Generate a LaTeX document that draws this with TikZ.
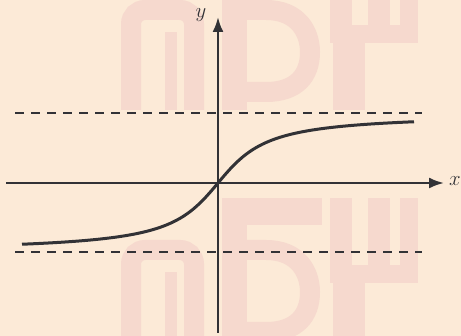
\documentclass[tikz,border=0pt]{standalone}
\usetikzlibrary{arrows.meta}
\definecolor{bgc}{RGB}{252,234,215}
\definecolor{wmc}{RGB}{246,217,206}
\definecolor{ink}{RGB}{50,50,54}
\begin{document}
\begin{tikzpicture}[x=1pt,y=-1pt,
  wm/.style={draw=wmc,line cap=butt},
  axis/.style={draw=ink,line width=2.3pt,-{Latex[length=15pt,width=11pt]}},
  asym/.style={draw=ink,line width=1.3pt,dash pattern=on 9pt off 7pt},
  curve/.style={draw=ink,line width=3pt},
  lbl/.style={text=ink,inner sep=0pt,font=\fontsize{22}{22}\selectfont}]
\fill[bgc] (0,0) rectangle (461,336);
\useasboundingbox (0,0) rectangle (461,336);
% watermark logos
\begin{scope}
\clip (0,0) rectangle (461,336);
\foreach \dy in {0,-240}{
\begin{scope}[shift={(0,\dy)}]
  \draw[wm,line width=20pt,rounded corners=14pt] (131,350) -- (131,250) -- (194,250) -- (194,350);
  \draw[wm,line width=12pt] (171,350) -- (171,272);
  \fill[wmc] (222,198) rectangle (247,350);
  \fill[wmc] (247,198) rectangle (322,225);
  \draw[wm,line width=20pt] (240,250) -- (266,250) .. controls (298,250) and (310,272) .. (310,292) .. controls (310,316) and (296,332) .. (266,332) -- (240,332);
  \fill[wmc] (330,198) rectangle (418,283);
  \fill[bgc] (352,190) rectangle (368,265);
  \fill[bgc] (390,190) rectangle (400,265);
  \fill[wmc] (333,283) rectangle (365,350);
\end{scope}}
\end{scope}
% coordinates
\coordinate (xs) at (6,183);
\coordinate (xe) at (444,183);
\coordinate (ys) at (218,333);
\coordinate (ye) at (218,17);
\coordinate (a1) at (15,113);
\coordinate (a2) at (422,113);
\coordinate (b1) at (15,252);
\coordinate (b2) at (422,252);
% asymptotes
\draw[asym] (a1) -- (a2);
\draw[asym] (b1) -- (b2);
% axes
\draw[axis] (xs) -- (xe);
\draw[axis] (ys) -- (ye);
% curve
\draw[curve] plot[domain=-196:196,samples=120] ({218+\x},{183-69.5*atan(\x/37)/90});
% labels
\node[lbl] (xl) at (455,181) {$x$};
\node[lbl] (yl) at (201,15) {$y$};
\end{tikzpicture}
\end{document}
